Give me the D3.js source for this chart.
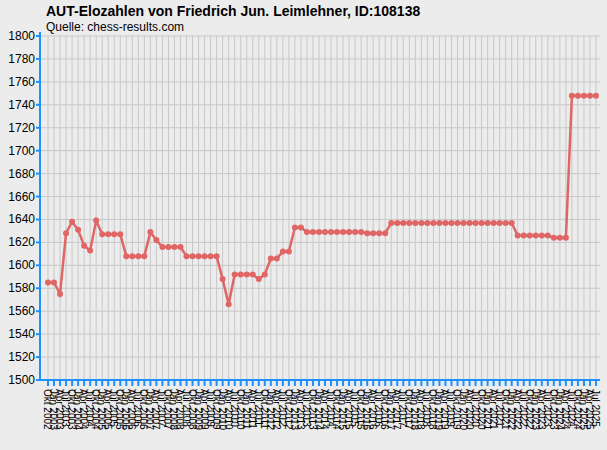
<!DOCTYPE html><html><head><meta charset="utf-8"><script src="https://cdn.jsdelivr.net/npm/d3@7"></script>
<style>body{margin:0;background:#ececec}</style></head><body><svg id="c" width="607" height="450"></svg>
<script>
const values=[1585,1585,1575,1628,1638,1631,1617,1613,1639,1627,1627,1627,1627,1608,1608,1608,1608,1629,1622,1616,1616,1616,1616,1608,1608,1608,1608,1608,1608,1588,1566,1592,1592,1592,1592,1588,1592,1606,1606,1612,1612,1633,1633,
1629,1629,1629,1629,1629,1629,1629,1629,1629,1629,1628,1628,1628,1628,
1637,1637,1637,1637,1637,1637,1637,1637,1637,1637,1637,1637,1637,1637,1637,1637,1637,1637,1637,1637,1637,
1626,1626,1626,1626,1626,1626,1624,1624,1624,1748,1748,1748,1748,1748];
const months=["Jan","Apr","Jul","Okt"];
const labels=values.map((v,i)=>{const q=(2025*4+2)-(values.length-1-i);return months[q%4]+" "+Math.floor(q/4);});
const yTicks=d3.range(1500,1801,20);
const svg=d3.select("#c");
const L=40,R=600,T=36,B=380;
svg.append("rect").attr("width",607).attr("height",450).attr("fill","#ececec");
const x=d3.scalePoint().domain(d3.range(values.length)).range([48,596]);
const y=d3.scaleLinear().domain([1500,1800]).range([B,T]);
const g=svg.append("g");
g.selectAll(".h").data(yTicks).join("line").attr("x1",L).attr("x2",R).attr("y1",d=>y(d)).attr("y2",d=>y(d)).attr("stroke","#c8c8c8");
g.selectAll(".v").data(d3.range(values.length)).join("line").attr("x1",d=>x(d)).attr("x2",d=>x(d)).attr("y1",T).attr("y2",B).attr("stroke","#c8c8c8");
svg.append("line").attr("x1",L).attr("x2",L).attr("y1",T-4).attr("y2",B).attr("stroke","#1e90ff").attr("stroke-width",2);
svg.append("line").attr("x1",L).attr("x2",R).attr("y1",B).attr("y2",B).attr("stroke","#1e90ff").attr("stroke-width",2);
svg.selectAll(".yt").data(yTicks).join("line").attr("x1",L-4).attr("x2",L).attr("y1",d=>y(d)).attr("y2",d=>y(d)).attr("stroke","#1e90ff").attr("stroke-width",2);
svg.selectAll(".xt").data(d3.range(values.length)).join("line").attr("x1",d=>x(d)).attr("x2",d=>x(d)).attr("y1",B).attr("y2",B+6).attr("stroke","#1e90ff").attr("stroke-width",2);
svg.selectAll(".yl").data(yTicks).join("text").attr("x",L-5).attr("y",d=>y(d)+4).attr("text-anchor","end").attr("font-family","Liberation Sans,Arial").attr("font-size",12).text(d=>d);
svg.selectAll(".xl").data(labels).join("text").attr("transform",(d,i)=>`translate(${x(i)-4},${B+9}) rotate(90)`).attr("font-family","Liberation Sans,Arial").attr("font-size",10).text(d=>d);
svg.append("path").datum(values).attr("fill","none").attr("stroke","#e06666").attr("stroke-width",2.5).attr("d",d3.line().x((d,i)=>x(i)).y(d=>y(d)));
svg.selectAll(".p").data(values).join("circle").attr("cx",(d,i)=>x(i)).attr("cy",d=>y(d)).attr("r",3).attr("fill","#e06666");
svg.append("text").attr("x",46).attr("y",16).attr("font-family","Liberation Sans,Arial").attr("font-weight","bold").attr("font-size",14).text("AUT-Elozahlen von Friedrich Jun. Leimlehner, ID:108138");
svg.append("text").attr("x",46).attr("y",31).attr("font-family","Liberation Sans,Arial").attr("font-size",12).text("Quelle: chess-results.com");
</script></body></html>
